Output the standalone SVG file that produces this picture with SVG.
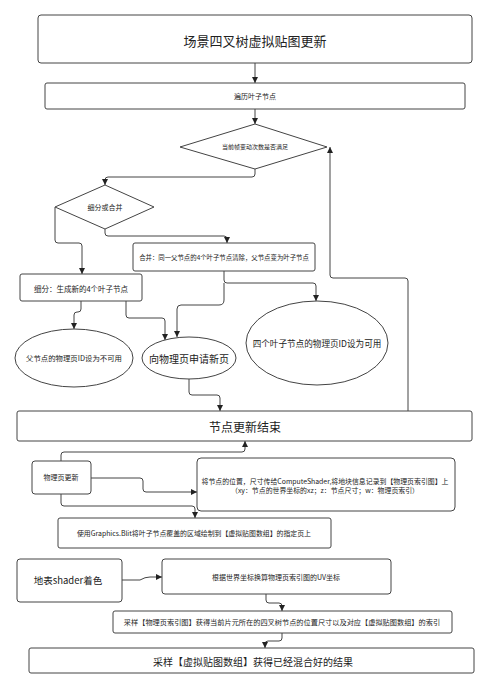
<svg xmlns="http://www.w3.org/2000/svg" width="500" height="689" viewBox="0 0 500 689">
<defs>
<marker id="arr" markerUnits="userSpaceOnUse" markerWidth="7" markerHeight="7" refX="6" refY="3" orient="auto">
<path d="M0,0 L6,3 L0,6 z" fill="#222"/>
</marker>
<style>
.n{fill:#fff;stroke:#444;stroke-width:1}
.t{font-family:"Noto Sans CJK SC","Noto Sans",sans-serif;fill:#222;text-anchor:middle;dominant-baseline:central}
.c path{fill:none;stroke:#444;stroke-width:1;marker-end:url(#arr)}
</style>
</defs>
<rect width="500" height="689" fill="#fff"/>
<g class="c" id="connectors">
<path d="M255,63 V83"/>
<path d="M255,109 V124"/>
<path d="M255,169 V174 Q255,177 252,177 H108 Q105,177 105,180 V185"/>
<path d="M55,207 V240 Q55,243 58,243 H79 Q82,243 82,246 V274"/>
<path d="M105,229 V233 Q105,236 108,236 H224 Q227,236 227,239 V243"/>
<path d="M224,271 V280 Q224,283 227,283 H313 Q316,283 316,286 V301"/>
<path d="M224,283 V300 Q224,305 219,305 H181 Q177,305 177,309 V337"/>
<path d="M81,301 V309 Q81,312 78,312 H77 Q74,312 74,315 V329"/>
<path d="M126,301 V315 Q126,318 129,318 H162 Q165,318 165,321 V340"/>
<path d="M189,379 V392 Q189,395 192,395 H217 Q220,395 220,398 V411"/>
<path d="M408,411 V281 Q408,278 405,278 H333 Q330,278 330,275 V147"/>
<path d="M61,461 V455 Q61,452 64,452 H242 Q245,452 245,449 V441"/>
<path d="M91,478 H140 Q143,478 143,481 V489 Q143,492 146,492 H197"/>
<path d="M61,494 V503 Q61,506 64,506 H192 Q195,506 195,509 V518"/>
<path d="M122,580 H140 Q145,577 150,577 H162"/>
<path d="M266,594 V600 Q266,603 269,603 H279 Q282,603 282,606 V611"/>
<path d="M282,633 V638 Q282,641 279,641 H268 Q265,641 265,644 V648"/>
</g>
<g id="title"><rect class="n" x="38" y="15" width="434" height="48" rx="3"/><text class="t" x="255" y="40" font-size="13">场景四叉树虚拟贴图更新</text></g>
<g id="traverse"><rect class="n" x="45" y="83" width="420" height="26" rx="2"/><text class="t" x="255" y="96" font-size="7">遍历叶子节点</text></g>
<g id="check"><polygon class="n" points="255,124 327,147 255,169 180,147"/><text class="t" x="255" y="146" font-size="6">当前帧变动次数是否满足</text></g>
<g id="split-merge"><polygon class="n" points="105,185 154,207 105,229 55,207"/><text class="t" x="105" y="207" font-size="7">细分或合并</text></g>
<g id="merge"><rect class="n" x="133" y="243" width="182" height="28" rx="2"/><text class="t" x="224" y="257" font-size="6.4">合并：同一父节点的4个叶子节点清除，父节点变为叶子节点</text></g>
<g id="split"><rect class="n" x="20" y="274" width="122" height="27" rx="2"/><text class="t" x="81" y="288" font-size="7.5">细分：生成新的4个叶子节点</text></g>
<g id="parent-unavail"><ellipse class="n" cx="74" cy="358" rx="59" ry="29"/><text class="t" x="74" y="357" font-size="7.4">父节点的物理页ID设为不可用</text></g>
<g id="request-page"><ellipse class="n" cx="189" cy="358" rx="47" ry="21"/><text class="t" x="189" y="358" font-size="10">向物理页申请新页</text></g>
<g id="children-avail"><ellipse class="n" cx="317" cy="343" rx="71" ry="42"/><text class="t" x="317" y="343" font-size="8.6">四个叶子节点的物理页ID设为可用</text></g>
<g id="update-end"><rect class="n" x="17" y="411" width="455" height="30" rx="2"/><text class="t" x="245" y="426" font-size="12">节点更新结束</text></g>
<g id="page-update"><rect class="n" x="32" y="461" width="59" height="33" rx="3"/><text class="t" x="61" y="477" font-size="7">物理页更新</text></g>
<g id="compute"><rect class="n" x="197" y="458" width="258" height="53" rx="4"/><text class="t" x="325" y="481" font-size="6.9">将节点的位置，尺寸传给ComputeShader,将地块信息记录到【物理页索引图】上</text><text class="t" x="325" y="490" font-size="6.9">（xy：节点的世界坐标的xz；z：节点尺寸；w：物理页索引）</text></g>
<g id="blit"><rect class="n" x="58" y="518" width="273" height="30" rx="2"/><text class="t" x="194" y="533" font-size="6.9">使用Graphics.Blit将叶子节点覆盖的区域绘制到【虚拟贴图数组】的指定页上</text></g>
<g id="shader"><rect class="n" x="17" y="559" width="105" height="43" rx="3"/><text class="t" x="68" y="580" font-size="9.5">地表shader着色</text></g>
<g id="uv"><rect class="n" x="162" y="559" width="229" height="35" rx="3"/><text class="t" x="276" y="577" font-size="7">根据世界坐标换算物理页索引图的UV坐标</text></g>
<g id="sample-index"><rect class="n" x="113" y="611" width="339" height="22" rx="2"/><text class="t" x="282" y="622" font-size="7.2">采样【物理页索引图】获得当前片元所在的四叉树节点的位置尺寸以及对应【虚拟贴图数组】的索引</text></g>
<g id="sample-array"><rect class="n" x="29" y="648" width="445" height="25" rx="2"/><text class="t" x="253" y="661" font-size="10">采样【虚拟贴图数组】获得已经混合好的结果</text></g>
</svg>
